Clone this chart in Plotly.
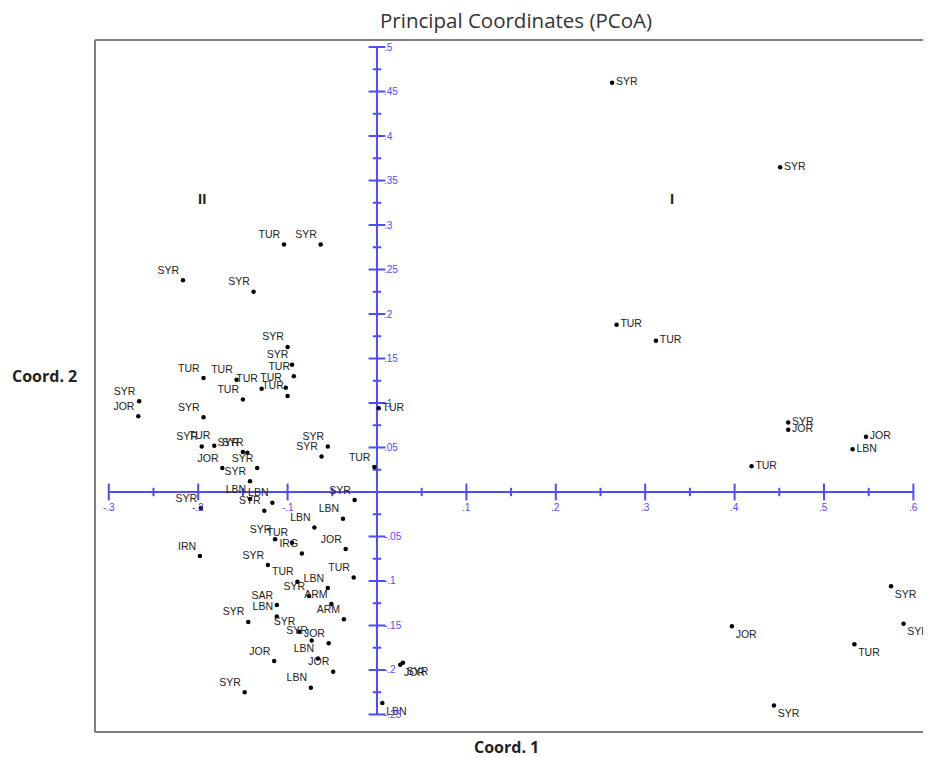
import plotly.graph_objects as go

# ---- data ----
labels = [
    "SYR", "SYR", "TUR", "TUR", "SYR", "JOR", "JOR", "LBN", "TUR",
    "SYR", "JOR", "SYR", "TUR", "SYR", "SYR", "JOR", "LBN", "TUR",
    "TUR", "SYR", "SYR", "SYR", "SYR", "SYR", "TUR", "TUR", "TUR", "TUR",
    "TUR", "TUR", "TUR", "SYR", "JOR", "SYR", "SYR", "TUR", "SYR", "SYR",
    "JOR", "SYR", "SYR", "SYR", "SYR", "TUR",
    "SYR", "LBN", "LBN", "SYR", "SYR", "LBN", "LBN", "SYR", "TUR", "IRG",
    "JOR", "IRN", "SYR", "TUR", "TUR", "LBN", "SYR", "SAR", "ARM", "SYR",
    "LBN", "ARM", "SYR", "SYR", "JOR", "JOR", "LBN", "JOR", "SYR", "LBN",
]
coord1 = [
    0.263, 0.451, 0.268, 0.312, 0.460, 0.460, 0.547, 0.532, 0.419,
    0.575, 0.397, 0.589, 0.534, 0.444, 0.029, 0.026, 0.006, 0.002,
    -0.104, -0.063, -0.217, -0.138, -0.100, -0.095, -0.093, -0.194, -0.157, -0.129,
    -0.102, -0.100, -0.150, -0.266, -0.267, -0.194, -0.196, -0.182, -0.150, -0.145,
    -0.173, -0.134, -0.142, -0.055, -0.062, -0.003,
    -0.197, -0.142, -0.117, -0.126, -0.025, -0.038, -0.070, -0.114, -0.095, -0.084,
    -0.035, -0.198, -0.122, -0.026, -0.089, -0.055, -0.076, -0.112, -0.051, -0.144,
    -0.112, -0.037, -0.087, -0.073, -0.054, -0.115, -0.066, -0.049, -0.148, -0.074,
]
coord2 = [
    0.460, 0.365, 0.188, 0.170, 0.078, 0.070, 0.062, 0.048, 0.029,
    -0.106, -0.151, -0.148, -0.171, -0.240, -0.192, -0.194, -0.237, 0.094,
    0.278, 0.278, 0.238, 0.225, 0.163, 0.143, 0.130, 0.128, 0.126, 0.116,
    0.117, 0.108, 0.104, 0.102, 0.085, 0.084, 0.051, 0.052, 0.045, 0.044,
    0.027, 0.027, 0.012, 0.051, 0.040, 0.028,
    -0.018, -0.008, -0.012, -0.021, -0.009, -0.030, -0.040, -0.053, -0.057, -0.069,
    -0.064, -0.072, -0.082, -0.096, -0.101, -0.108, -0.117, -0.127, -0.126, -0.146,
    -0.140, -0.143, -0.157, -0.167, -0.170, -0.190, -0.187, -0.202, -0.225, -0.220,
]

x_major = [-0.3, -0.2, -0.1, 0.0, 0.1, 0.2, 0.3, 0.4, 0.5, 0.6]
x_major_text = ["-.3", "-.2", "-.1", "", ".1", ".2", ".3", ".4", ".5", ".6"]
x_minor = [-0.25, -0.15, -0.05, 0.05, 0.15, 0.25, 0.35, 0.45, 0.55]
y_major = [0.5, 0.45, 0.4, 0.35, 0.3, 0.25, 0.2, 0.15, 0.1, 0.05, 0.0,
           -0.05, -0.1, -0.15, -0.2, -0.25]
y_major_text = [".5", ".45", ".4", ".35", ".3", ".25", ".2", ".15", ".1", ".05", "",
                "-.05", "-.1", "-.15", "-.2", "-.25"]
y_minor = [0.475, 0.425, 0.375, 0.325, 0.275, 0.225, 0.175, 0.125, 0.075, 0.025,
           -0.025, -0.075, -0.125, -0.175, -0.225]

quadrant_text = ["II", "I"]
quadrant_x = [-0.196, 0.330]
quadrant_y = [0.330, 0.330]

AX = "#4d4dff"
FONT = "Liberation Sans"

fig = go.Figure()

# axes through the origin
fig.add_trace(go.Scatter(x=[x_major[0], x_major[-1]], y=[0, 0], mode="lines",
                         line=dict(color=AX, width=2), hoverinfo="skip"))
fig.add_trace(go.Scatter(x=[0, 0], y=[y_major[-1], y_major[0]], mode="lines",
                         line=dict(color=AX, width=2), hoverinfo="skip"))
# tick marks
fig.add_trace(go.Scatter(x=x_major, y=[0] * len(x_major), mode="markers",
                         marker=dict(symbol="line-ns", size=12,
                                     line=dict(color=AX, width=2)), hoverinfo="skip"))
fig.add_trace(go.Scatter(x=x_minor, y=[0] * len(x_minor), mode="markers",
                         marker=dict(symbol="line-ns", size=6,
                                     line=dict(color=AX, width=2)), hoverinfo="skip"))
fig.add_trace(go.Scatter(x=[0] * len(y_major), y=y_major, mode="markers",
                         marker=dict(symbol="line-ew", size=12,
                                     line=dict(color=AX, width=2)), hoverinfo="skip"))
fig.add_trace(go.Scatter(x=[0] * len(y_minor), y=y_minor, mode="markers",
                         marker=dict(symbol="line-ew", size=6,
                                     line=dict(color=AX, width=2)), hoverinfo="skip"))

# points
positions = []
for xv, yv in zip(coord1, coord2):
    if xv >= 0:
        positions.append("middle right" if yv > 0 else "bottom right")
    else:
        positions.append("top left")
fig.add_trace(go.Scatter(x=coord1, y=coord2, mode="markers+text", text=labels,
                         textposition=positions,
                         textfont=dict(family=FONT, size=10.5, color="#222222"),
                         marker=dict(color="black", size=4.5), hoverinfo="text"))

annotations = []
for xv, t in zip(x_major, x_major_text):
    if t:
        annotations.append(dict(x=xv, y=0, text=t, showarrow=False, xanchor="center",
                                yanchor="top", yshift=-8,
                                font=dict(family=FONT, size=10, color=AX)))
for yv, t in zip(y_major, y_major_text):
    if t:
        annotations.append(dict(x=0, y=yv, text=t, showarrow=False, xanchor="left",
                                yanchor="middle", xshift=5,
                                font=dict(family=FONT, size=10, color=AX)))
for xv, yv, t in zip(quadrant_x, quadrant_y, quadrant_text):
    annotations.append(dict(x=xv, y=yv, text="<b>%s</b>" % t, showarrow=False,
                            font=dict(family=FONT, size=15, color="#222222")))
annotations.append(dict(xref="paper", yref="paper", x=0.503, y=1, yshift=20,
                        text="Principal Coordinates (PCoA)", showarrow=False,
                        xanchor="center", yanchor="middle",
                        font=dict(family="Open Sans", size=20.5, color="#333333")))
annotations.append(dict(xref="paper", yref="paper", x=0.492, y=0, yshift=-15,
                        text="<b>Coord. 1</b>", showarrow=False,
                        xanchor="center", yanchor="middle",
                        font=dict(family="Open Sans", size=16, color="#222222")))
annotations.append(dict(xref="paper", yref="paper", x=0, y=0.514, xshift=-51,
                        text="<b>Coord. 2</b>", showarrow=False,
                        xanchor="center", yanchor="middle",
                        font=dict(family="Open Sans", size=16, color="#222222")))

shapes = [
    dict(type="line", xref="paper", yref="paper", x0=0, x1=0, y0=0, y1=1,
         line=dict(color="#7f7f7f", width=2)),
    dict(type="line", xref="paper", yref="paper", x0=0, x1=1, y0=1, y1=1,
         line=dict(color="#7f7f7f", width=2)),
    dict(type="line", xref="paper", yref="paper", x0=0, x1=1, y0=0, y1=0,
         line=dict(color="#7f7f7f", width=2)),
]

fig.update_layout(
    width=923, height=749,
    margin=dict(l=87, r=0, t=32, b=25),
    paper_bgcolor="white", plot_bgcolor="white",
    showlegend=False,
    xaxis=dict(range=[-0.3154, 0.6197], visible=False, fixedrange=True),
    yaxis=dict(range=[-0.2697, 0.5079], visible=False, fixedrange=True),
    annotations=annotations,
    shapes=shapes,
)

fig.write_html("out.html")
